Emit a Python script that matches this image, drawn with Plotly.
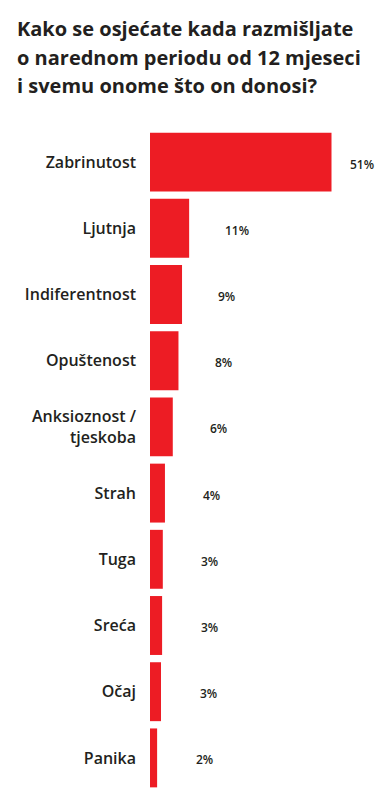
import plotly.graph_objects as go

categories = ["Zabrinutost", "Ljutnja", "Indiferentnost", "Opuštenost",
              "Anksioznost /<br>tjeskoba", "Strah", "Tuga", "Sreća", "Očaj", "Panika"]
values = [51, 11, 9, 8, 6.4, 4.2, 3.6, 3.4, 3.1, 2.0]
value_labels = ["51%", "11%", "9%", "8%", "6%", "4%", "3%", "3%", "3%", "2%"]
title_lines = ["Kako se osjećate kada razmišljate",
               "o narednom periodu od 12 mjeseci",
               "i svemu onome što on donosi?"]

W, H = 392, 799
ML, MR, MT, MB = 150, 0, 129, 8
XMAX = 68.0
plot_w = W - ML - MR
plot_h = H - MT - MB
px_per_unit = plot_w / XMAX

RED = "#ED1C24"
DARK = "#231F20"
FONT = "Open Sans"

fig = go.Figure(go.Bar(
    x=values, y=categories, orientation="h",
    marker=dict(color=RED, line=dict(width=0)),
    hoverinfo="skip",
))

annotations = []
# value labels placed in a column offset to the right of bars
for cat, v, lab in zip(categories, values, value_labels):
    px_left = 38 + 3.14 * v  # pixel offset from axis origin
    annotations.append(dict(
        x=px_left / px_per_unit, y=cat, xref="x", yref="y",
        text=lab, showarrow=False, xanchor="left", yanchor="middle",
        yshift=-2,
        font=dict(family=FONT, size=12, color=DARK, weight=600),
    ))

title_centers = [28, 57, 86]
for line, py in zip(title_lines, title_centers):
    annotations.append(dict(
        x=(15 - ML) / plot_w, y=((H - MB) - py) / plot_h,
        xref="paper", yref="paper",
        text=line, showarrow=False, xanchor="left", yanchor="middle",
        font=dict(family=FONT, size=20, color=DARK, weight=700),
    ))

fig.update_layout(
    width=W, height=H,
    margin=dict(l=ML, r=MR, t=MT, b=MB, pad=0),
    paper_bgcolor="white", plot_bgcolor="white",
    bargap=0.11,
    showlegend=False,
    annotations=annotations,
    xaxis=dict(range=[0, XMAX], visible=False, fixedrange=True),
    yaxis=dict(autorange="reversed", showgrid=False, zeroline=False,
               showline=False, ticks="", ticklabelstandoff=13,
               tickfont=dict(family=FONT, size=16, color=DARK, weight=600),
               fixedrange=True),
)

fig.write_html("out.html", config=dict(displayModeBar=False),
               post_script="document.body.style.margin='0px';document.body.style.overflow='hidden';")
